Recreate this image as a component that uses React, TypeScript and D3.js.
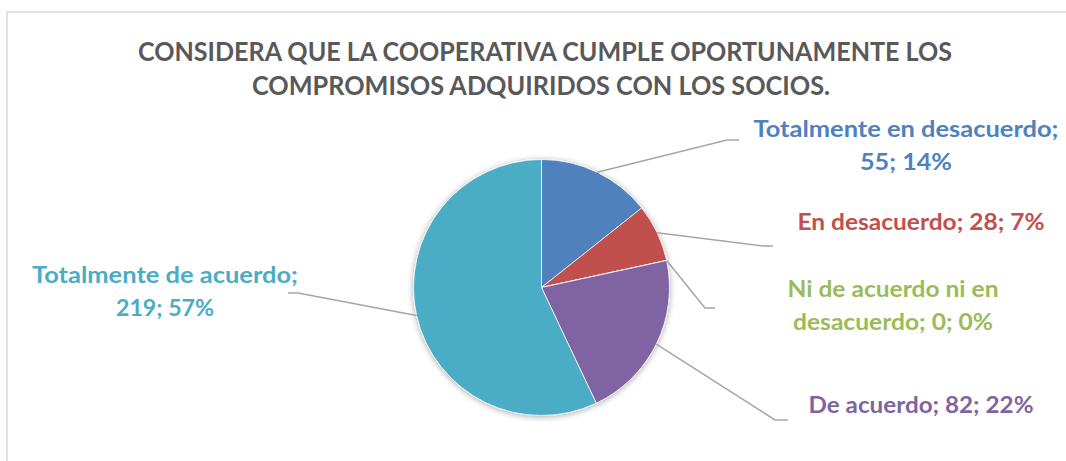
import * as d3 from "d3";

// --- data ---
const categories = [
  "Totalmente en desacuerdo",
  "En desacuerdo",
  "Ni de acuerdo ni en desacuerdo",
  "De acuerdo",
  "Totalmente de acuerdo",
];
const counts = [55, 28, 0, 82, 219];
const percents = ["14%", "7%", "0%", "22%", "57%"];
const titleLines = [
  "CONSIDERA QUE LA COOPERATIVA CUMPLE OPORTUNAMENTE LOS",
  "COMPROMISOS ADQUIRIDOS CON LOS SOCIOS.",
];

const colors = ["#4F81BD", "#C0504D", "#9BBB59", "#8064A2", "#4BACC6"];

// label layout: text lines, center x, first baseline, leader elbow / end
const labelLayout = [
  { lines: ["Totalmente en desacuerdo;", "55; 14%"], widths: [305, 92], x: 906, y: 137, elbow: [727, 140], end: [739, 140] },
  { lines: ["En desacuerdo; 28; 7%"], widths: [247], x: 921, y: 230, elbow: [763, 246], end: [773, 246] },
  { lines: ["Ni de acuerdo ni en", "desacuerdo; 0; 0%"], widths: [211, 200], x: 893, y: 297, elbow: [705, 308], end: [715, 308] },
  { lines: ["De acuerdo; 82; 22%"], widths: [225], x: 921, y: 413, elbow: [775, 420], end: [788, 420] },
  { lines: ["Totalmente de acuerdo;", "219; 57%"], widths: [266, 98], x: 165, y: 283, elbow: [298, 293], end: [288, 293] },
];

const W = 1066;
const H = 461;
const cx = 541.5;
const cy = 287.5;
const R = 128;
const FONT = "Lato, 'Open Sans', sans-serif";

export default function App() {
  const pie = d3
    .pie<number>()
    .value((d) => d)
    .sort(null)
    .startAngle(0)
    .endAngle(2 * Math.PI);
  const arcs = pie(counts);
  const arc = d3.arc<d3.PieArcDatum<number>>().innerRadius(0).outerRadius(R);

  return (
    <div style={{ position: "fixed", left: 0, top: 0 }}>
      <svg width={W} height={H} style={{ display: "block", background: "#fff" }}>
        <defs>
          <filter id="pieShadow" x="-20%" y="-20%" width="140%" height="140%">
            <feGaussianBlur in="SourceAlpha" stdDeviation="3" />
            <feOffset dx="0" dy="1" result="b" />
            <feComponentTransfer>
              <feFuncA type="linear" slope="0.35" />
            </feComponentTransfer>
            <feMerge>
              <feMergeNode />
              <feMergeNode in="SourceGraphic" />
            </feMerge>
          </filter>
        </defs>

        {/* chart area border (right / bottom edges fall outside the picture) */}
        <rect x={7} y={12} width={W + 20} height={H + 20} fill="none" stroke="#d9d9d9" strokeWidth={1.5} />

        {/* title */}
        {titleLines.map((t, i) => (
          <text
            key={i}
            x={545 - (i === 1 ? 4 : 0)}
            y={61 + i * 34}
            textAnchor="middle"
            fontFamily={FONT}
            fontWeight="bold"
            fontSize={27}
            fill="#595959"
            textLength={i === 0 ? 814 : 578}
            lengthAdjust="spacingAndGlyphs"
          >
            {t}
          </text>
        ))}

        {/* pie */}
        <g transform={`translate(${cx},${cy})`}>
          <g filter="url(#pieShadow)">
            {arcs.map((a, i) => (
              <path key={categories[i]} d={arc(a) || ""} fill={colors[i]} stroke="#fff" strokeWidth={0.75} />
            ))}
          </g>
        </g>

        {/* leader lines */}
        {arcs.map((a, i) => {
          const mid = (a.startAngle + a.endAngle) / 2;
          const sx = cx + R * Math.sin(mid);
          const sy = cy - R * Math.cos(mid);
          const L = labelLayout[i];
          return (
            <polyline
              key={"l" + i}
              points={`${sx},${sy} ${L.elbow[0]},${L.elbow[1]} ${L.end[0]},${L.end[1]}`}
              fill="none"
              stroke="#a6a6a6"
              strokeWidth={1.5}
            />
          );
        })}

        {/* data labels */}
        {labelLayout.map((L, i) => (
          <g key={"t" + i}>
            {L.lines.map((line, j) => (
              <text
                key={j}
                x={L.x}
                y={L.y + j * 33}
                textAnchor="middle"
                fontFamily={FONT}
                fontWeight="bold"
                fontSize={22}
                fill={colors[i]}
                textLength={L.widths[j]}
                lengthAdjust="spacingAndGlyphs"
              >
                {line}
              </text>
            ))}
          </g>
        ))}
      </svg>
    </div>
  );
}
